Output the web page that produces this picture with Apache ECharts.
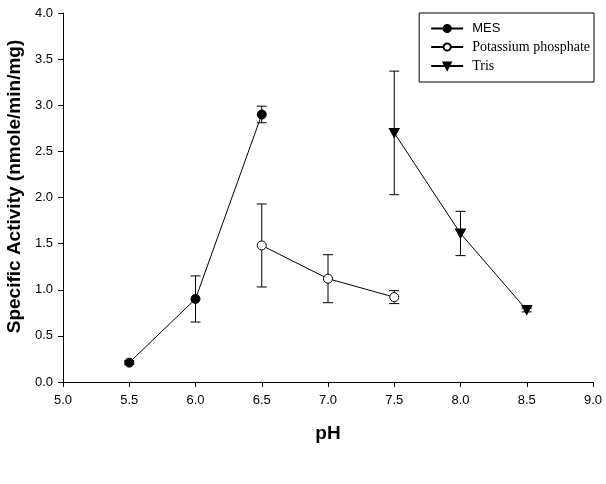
<!DOCTYPE html>
<html>
<head>
<meta charset="utf-8" />
<title></title>
<script type="text/javascript" src="https://cdn.jsdelivr.net/npm/echarts@6/dist/echarts.min.js"></script>
<style>
	* { margin: 0; padding: 0; }
	body, html { height: 100%; background: #fff; }
	#main { width: 606px; height: 484px; }
</style>
</head>
<body>
<div id="main"></div>
<script>
// pH values and activities (mean, error)
var mesPh = [5.5, 6.0, 6.5];
var mesVal = [0.21, 0.90, 2.90];
var mesErr = [0.02, 0.25, 0.09];

var kpPh = [6.5, 7.0, 7.5];
var kpVal = [1.48, 1.12, 0.92];
var kpErr = [0.45, 0.26, 0.07];

var trisPh = [7.5, 8.0, 8.5];
var trisVal = [2.70, 1.61, 0.78];
var trisErr = [0.67, 0.24, 0.02];

var xTicks = ['5.0', '5.5', '6.0', '6.5', '7.0', '7.5', '8.0', '8.5', '9.0'];

function pts(xs, ys) {
	return xs.map(function(x, i) { return [x, ys[i]]; });
}
function errs(xs, ys, es) {
	return xs.map(function(x, i) { return [x, ys[i] - es[i], ys[i] + es[i]]; });
}

function errorBar(params, api) {
	var lo = api.coord([api.value(0), api.value(1)]);
	var hi = api.coord([api.value(0), api.value(2)]);
	var w = 5;
	var style = { stroke: '#000', lineWidth: 1 };
	return {
		type: 'group',
		children: [
			{ type: 'line', shape: { x1: lo[0], y1: lo[1], x2: hi[0], y2: hi[1] }, style: style },
			{ type: 'line', shape: { x1: lo[0] - w, y1: lo[1], x2: lo[0] + w, y2: lo[1] }, style: style },
			{ type: 'line', shape: { x1: hi[0] - w, y1: hi[1], x2: hi[0] + w, y2: hi[1] }, style: style }
		]
	};
}

function errSeries(data) {
	return {
		type: 'custom',
		renderItem: errorBar,
		data: data,
		z: 1,
		silent: true
	};
}

var myChart = echarts.init(document.getElementById('main'));
myChart.setOption({
	animation: false,
	grid: { left: 63, right: 13, top: 13, bottom: 102, outerBoundsMode: 'none' },
	legend: {
		right: 12,
		top: 13,
		orient: 'vertical',
		itemGap: 5,
		itemWidth: 32,
		itemHeight: 9,
		padding: [9, 4, 9, 11],
		borderColor: '#000',
		borderWidth: 1,
		borderRadius: 0,
		data: ['MES', 'Potassium phosphate', 'Tris'],
		formatter: function(name) {
			return name == 'MES' ? '{s|' + name + '}' : '{t|' + name + '}';
		},
		textStyle: {
			rich: {
				s: { fontFamily: 'Liberation Sans', fontSize: 13, lineHeight: 15, color: '#000', padding: [0, 0, 0, 4] },
				t: { fontFamily: 'Liberation Serif', fontSize: 14, lineHeight: 15, color: '#000', padding: [0, 0, 0, 4] }
			}
		}
	},
	xAxis: {
		type: 'value',
		min: 5,
		max: 9,
		interval: 0.5,
		name: 'pH',
		nameLocation: 'middle',
		nameGap: 42,
		nameTextStyle: { fontFamily: 'Liberation Sans', fontWeight: 'bold', fontSize: 19, color: '#000' },
		axisLine: { lineStyle: { color: '#000' } },
		axisTick: { length: 5, lineStyle: { color: '#000' } },
		axisLabel: {
			color: '#000', fontFamily: 'Liberation Sans', fontSize: 13, margin: 12,
			formatter: function(v) { return xTicks[Math.round((v - 5) / 0.5)]; }
		},
		splitLine: { show: false }
	},
	yAxis: {
		type: 'value',
		min: 0,
		max: 4,
		interval: 0.5,
		name: 'Specific Activity (nmole/min/mg)',
		nameLocation: 'middle',
		nameGap: 38,
		nameTextStyle: {
			fontFamily: 'Liberation Sans', fontWeight: 'bold', fontSize: 19, color: '#000',
			padding: [0, 0, 0, 22]
		},
		axisLine: { show: true, lineStyle: { color: '#000' } },
		axisTick: { show: true, length: 5, lineStyle: { color: '#000' } },
		axisLabel: {
			color: '#000', fontFamily: 'Liberation Sans', fontSize: 13, margin: 10,
			formatter: function(v) { return v.toFixed(1); }
		},
		splitLine: { show: false }
	},
	series: [
		errSeries(errs(mesPh, mesVal, mesErr)),
		errSeries(errs(kpPh, kpVal, kpErr)),
		errSeries(errs(trisPh, trisVal, trisErr)),
		{
			name: 'MES',
			type: 'line',
			data: pts(mesPh, mesVal),
			symbol: 'circle',
			symbolSize: 9,
			lineStyle: { color: '#000', width: 1 },
			itemStyle: { color: '#000', borderColor: '#000', borderWidth: 1 },
			z: 3
		},
		{
			name: 'Potassium phosphate',
			type: 'line',
			data: pts(kpPh, kpVal),
			symbol: 'circle',
			symbolSize: 9,
			lineStyle: { color: '#000', width: 1 },
			itemStyle: { color: '#fff', borderColor: '#000', borderWidth: 1 },
			z: 3
		},
		{
			name: 'Tris',
			type: 'line',
			data: pts(trisPh, trisVal),
			symbol: 'triangle',
			symbolRotate: 180,
			symbolSize: [10, 9],
			lineStyle: { color: '#000', width: 1 },
			itemStyle: { color: '#000', borderColor: '#000', borderWidth: 1 },
			z: 3
		}
	]
});
</script>
</body>
</html>
